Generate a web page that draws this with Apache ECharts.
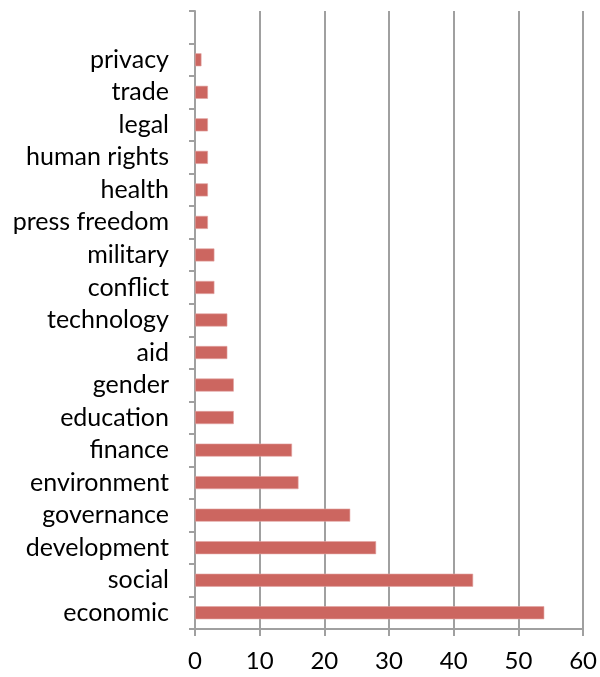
<!DOCTYPE html>
<html>
<head>
<meta charset="utf-8">
<script src="https://cdn.jsdelivr.net/npm/echarts@6/dist/echarts.min.js"></script>
<style>
  html, body { margin: 0; padding: 0; background: #fff; }
  #chart { width: 600px; height: 677px; }
</style>
</head>
<body>
<div id="chart"></div>
<script>
// bottom to top, with the empty slot Excel leaves at the top
const categories = ['economic', 'social', 'development', 'governance', 'environment', 'finance',
  'education', 'gender', 'aid', 'technology', 'conflict', 'military', 'press freedom',
  'health', 'human rights', 'legal', 'trade', 'privacy', ''];
const counts = [54, 43, 28, 24, 16, 15, 6, 6, 5, 5, 3, 3, 2, 2, 2, 2, 2, 1, null];
const xTicks = [0, 10, 20, 30, 40, 50, 60];

const gray = '#a0a0a0';
const chart = echarts.init(document.getElementById('chart'));
chart.setOption({
  animation: false,
  grid: { left: 195, right: 14, top: 11, bottom: 48, containLabel: false },
  xAxis: {
    type: 'value',
    min: xTicks[0],
    max: xTicks[xTicks.length - 1],
    interval: 10,
    axisLine: { show: true, lineStyle: { color: gray, width: 2 } },
    axisTick: { show: true, length: 7, lineStyle: { color: gray, width: 2 } },
    axisLabel: { color: '#000', fontFamily: 'Lato', fontSize: 24, margin: 20 },
    splitLine: { show: true, lineStyle: { color: gray, width: 2 } },
  },
  yAxis: {
    type: 'category',
    data: categories,
    axisLine: { show: true, lineStyle: { color: gray, width: 2 } },
    axisTick: { show: true, length: 6, alignWithLabel: false, lineStyle: { color: gray, width: 2 } },
    axisLabel: { color: '#000', fontFamily: 'Lato', fontSize: 25, margin: 26, interval: 0, padding: [5, 0, 0, 0] },
  },
  series: [
    {
      type: 'bar',
      data: counts,
      barWidth: '40%',
      itemStyle: { color: '#cc6660', borderColor: '#e3a5a2', borderWidth: 0.6 },
    },
  ],
});
</script>
</body>
</html>
